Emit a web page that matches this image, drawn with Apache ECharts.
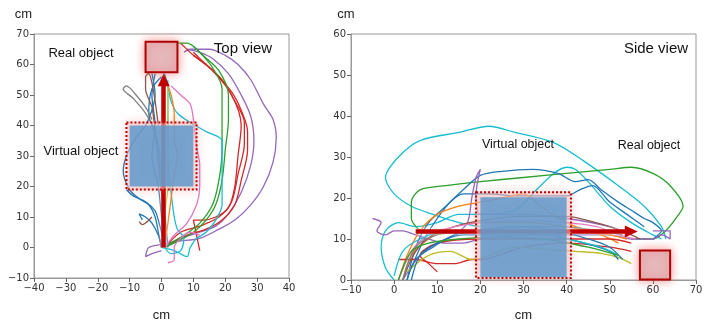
<!DOCTYPE html>
<html>
<head>
<meta charset="utf-8">
<script src="https://cdn.jsdelivr.net/npm/echarts@6/dist/echarts.min.js"></script>
<style>
  html, body { margin: 0; padding: 0; background: #fff; }
  #chart { width: 707px; height: 327px; }
</style>
</head>
<body>
<div id="chart"></div>
<script>
// ---- Top view tracks (x cm, y cm) ----
const topPurpleA = [[0,-1],[-3,-2],[-5,-3],[-4,0],[0,1],[5,2],[12,3],[18,6],[23,9],[28,14],[32,20],[35,28],[36,36],[35,42],[32,47],[28,55],[24,60],[20,63],[15,65],[9,65],[7,64]]
const topPurpleB = [[1,0],[6,3],[12,5],[17,7],[21,11],[25,18],[28,27],[29,35],[28,43],[25,50],[21,57],[16,62],[12,64],[8,65]]
const topRedA = [[2,1],[8,4],[14,6],[19,9],[23,14],[25,22],[27,32],[27,38],[25,45],[22,51],[17,57],[12,62],[10,64]]
const topRedB = [[1,0],[6,5],[12,7],[18,10],[22,15],[24,24],[26,34],[26,41],[23,48],[19,55],[14,60],[10,63]]
const topRedC = [[12,-1],[11,4],[10,9],[13,9],[17,10],[21,13],[23,20],[24,30],[25,40],[22,50],[16,58],[10,63],[6,67]]
const topGreenA = [[1,0],[5,2],[10,5],[14,9],[17,14],[19,22],[20,32],[21,42],[21,50],[18,58],[13,63],[8,67],[4,67]]
const topGreenB = [[2,1],[7,4],[12,8],[16,14],[18,22],[19,32],[19,42],[19,52],[16,59],[12,64],[10,66]]
const topCyanA = [[0,0],[4,-1],[8,-3],[9,0],[11,3],[14,5],[17,9],[19,14],[19,25],[19,35],[14,38],[9,41],[5,44],[3,48],[2,53],[1,57]]
const topCyanB = [[1,0],[3,-2],[6,-1],[7,3],[5,6],[4,10],[3,18],[2,28],[2,38],[2,48],[2,55]]
const topBlueA = [[0,0],[-1,5],[-2,10],[-4,14],[-7,16],[-10,19],[-12,25],[-11,30],[-8,36],[-5,40],[-3,45],[-2,50],[-3,57]]
const topBlueB = [[1,0],[0,5],[-1,9],[-2,12],[-5,15],[-9,17],[-11,19]]
const topBlueC = [[0,0],[-1,4],[-3,8],[-5,10],[-7,11],[-6,9]]
const topBlueD = [[1,0],[0,10],[-1,20],[-3,30],[-2,40],[-3,50],[-2,57]]
const topBlueE = [[2,0],[1,12],[0,24],[-1,34],[-4,44],[-3,52],[0,56]]
const topGray = [[0,0],[1,10],[0,20],[-1,30],[-2,38],[-5,44],[-9,49],[-12,52],[-11,53],[-8,50],[-5,46],[-3,42]]
const topBrown = [[1,0],[1,8],[0,18],[-1,28],[-2,38],[-3,46],[-5,52],[-5,56],[-4,57],[-3,54],[-2,48],[-1,40]]
const topBrownHook = [[-3,10],[-5,8],[-6,7.5],[-7,8.5]]
const topPinkA = [[1,0],[4,4],[8,8],[11,14],[12,20],[12,27],[11,33],[10,42],[9,47],[6,50],[3,53]]
const topPinkB = [[2,-5],[4,-4],[4,0],[6,3],[9,5],[12,4]]
const topOrange = [[1,0],[2,8],[3,16],[4,24],[5,30],[4,36],[4,44],[3,50],[2,53]]
const topOlive = [[1,0],[1,10],[2,20],[2,30],[2,42],[2,52]]

// ---- Side view tracks (x cm, z cm) ----
const sideCyanBig = [[20,13],[15,14],[9,16],[4,18],[0,21],[-2,25],[1,30],[6,34],[15,36],[22,37.5],[28,36],[37,33.5],[44,29],[52,23],[58,18],[62,13],[63,10]]
const sideCyanB = [[0,0],[-2,3],[-3,8],[-2,12],[1,14],[5,13],[10,14],[15,16],[20,16],[28,17],[33,22],[37,26],[40,27.5],[42,27],[45,24],[50,18],[55,14],[60,11],[62,10]]
const sideGreenBig = [[6,12],[4,15],[4,19],[6,22],[12,23],[20,24],[30,25],[40,26],[50,27],[55,27.5],[60,26],[64,23],[67,18],[66,16],[63,12],[60,10],[55,10]]
const sideBlueHigh = [[3,0],[5,8],[8,14],[12,18],[16,22],[20,25.5],[25,26.5],[32,27],[38,26],[42,24],[45,24.5],[48,22],[52,19],[55,17],[58,15],[60,14],[62,12],[60,10]]
const sideBlueMid = [[4,3],[7,10],[10,15],[13,19],[16,21],[22,21],[28,20.5],[34,20.5],[40,20.5],[43,22],[46,23],[50,19],[54,16],[58,13]]
const sidePurpleScribble = [[-5,15],[-3,14],[-4,12],[-2,11],[0,12],[2,12],[5,11],[8,10],[12,9],[16,9],[20,10],[30,11],[40,11],[50,11],[55,10],[60,10],[62,11],[64,10],[64,12],[60,12]]
const sidePurpleSpike = [[2,0],[6,6],[10,9],[14,11],[17,14],[18,20],[19,25],[20,27],[19,21],[20,16],[25,16],[30,16],[40,15],[50,13],[55,11]]
const sideOrangeA = [[1,0],[3,6],[6,12],[10,16],[15,18],[20,19],[25,20],[30,21],[34,18],[40,14],[45,12],[50,11],[54,10]]
const sideOrangeB = [[2,0],[4,6],[8,10],[14,13],[20,14],[30,14],[40,13],[48,11],[52,9]]
const sideRedA = [[1,5],[5,5],[10,4],[14,4],[18,5],[20,5],[30,8],[40,9],[50,8],[55,7]]
const sideRedB = [[10,2],[8,4],[6,6],[10,9],[20,10],[30,10],[40,10],[50,10],[55,9]]
const sideOlive = [[3,2],[8,6],[13,7],[18,5],[22,6],[28,8],[35,7.5],[42,7],[48,6.5],[52,5.5],[55,4]]
const sideBrown = [[2,0],[5,7],[9,11],[14,13],[20,14.5],[30,15.5],[40,15.5],[45,14.5],[50,13],[55,11],[57,10]]
const sidePink = [[1,0],[4,7],[8,11],[14,13],[20,14],[30,14.5],[40,14],[47,13],[52,11],[56,10]]
const sideGray = [[2,0],[5,8],[10,11],[18,12],[28,13],[38,13],[48,12],[53,11]]
const sideBlueLowA = [[3,0],[5,5],[9,8],[14,11],[20,12],[30,13],[38,12],[45,10],[50,8],[53,5]]
const sideBlueLowB = [[4,0],[6,6],[10,9],[16,11],[25,11],[35,11],[44,9],[50,7],[52,5]]
const sideCyanLow = [[0,1],[2,7],[6,10],[12,12],[20,12],[30,12],[40,10],[48,8],[52,6]]
const sideGreenLow = [[1,0],[4,7],[8,9],[15,10],[25,10.5],[35,10],[45,8],[52,6]]

// ---- objects and arrows [x1, y1, x2, y2] ----
const topVirtualBox = [-10, 20, 10, 40]
const topVirtualBorder = [-11, 19, 11, 41]
const topRealBox = [-5, 57.5, 5, 67.5]
const topArrow = [[0.7, 0], [0.7, 55]]
const sideVirtualBox = [20, 0.7, 40, 20.2]
const sideVirtualBorder = [19, 0.5, 41, 21.4]
const sideRealBox = [57, 0.1, 64, 7.2]
const sideArrow = [[5, 11.8], [55, 11.8]]

// matplotlib tab10
const C = {
  blue: '#1f77b4', orange: '#ff7f0e', green: '#2ca02c', red: '#d62728', purple: '#9467bd',
  brown: '#8c564b', pink: '#e377c2', gray: '#7f7f7f', olive: '#bcbd22', cyan: '#17becf'
}

const topTracks = [
  [topPurpleA, C.purple], [topPurpleB, C.purple], [topRedA, C.red], [topRedB, C.red], [topRedC, C.red],
  [topGreenA, C.green], [topGreenB, C.green], [topCyanA, C.cyan], [topCyanB, C.cyan],
  [topBlueA, C.blue], [topBlueB, C.blue], [topBlueC, C.blue], [topBlueD, C.blue], [topBlueE, C.blue],
  [topGray, C.gray], [topBrown, C.brown], [topBrownHook, C.brown], [topPinkA, C.pink], [topPinkB, C.pink],
  [topOrange, C.orange], [topOlive, C.olive]
]
const sideTracks = [
  [sideCyanBig, C.cyan], [sideCyanB, C.cyan], [sideGreenBig, C.green], [sideBlueHigh, C.blue], [sideBlueMid, C.blue],
  [sidePurpleScribble, C.purple], [sidePurpleSpike, C.purple], [sideOrangeA, C.orange], [sideOrangeB, C.orange],
  [sideRedA, C.red], [sideRedB, C.red], [sideOlive, C.olive], [sideBrown, C.brown], [sidePink, C.pink],
  [sideGray, C.gray], [sideBlueLowA, C.blue], [sideBlueLowB, C.blue], [sideCyanLow, C.cyan], [sideGreenLow, C.green]
]

const minus = v => (v < 0 ? '\u2212' + (-v) : String(v))

function axis(gridIndex, min, max, nameOpts) {
  return Object.assign({
    gridIndex,
    type: 'value',
    min, max, interval: 10,
    axisLine: { show: true, onZero: false, lineStyle: { color: '#999', width: 1 } },
    axisTick: { show: true, length: 4, lineStyle: { color: '#666' } },
    axisLabel: { color: '#333', fontSize: 10, fontFamily: 'DejaVu Sans', margin: 5, formatter: minus },
    splitLine: { show: false },
    name: 'cm',
    nameTextStyle: { color: '#222', fontSize: 13, fontFamily: 'Liberation Sans' }
  }, nameOpts)
}

function trackSeries(tracks, idx) {
  return tracks.map(([pts, color]) => ({
    type: 'line',
    xAxisIndex: idx, yAxisIndex: idx,
    data: pts,
    showSymbol: false,
    smooth: 0.3,
    lineStyle: { color, width: 1.3 },
    z: 2
  }))
}

// draws the virtual object (glow + blue fill + dotted border) and real object
function objectSeries(idx, virtualBox, virtualBorder, realBox) {
  return {
    type: 'custom',
    xAxisIndex: idx, yAxisIndex: idx,
    silent: true,
    z: 5,
    data: [virtualBorder.concat(0), virtualBox.concat(1), virtualBorder.concat(2), realBox.concat(3)],
    renderItem(params, api) {
      const p1 = api.coord([api.value(0), api.value(1)])
      const p2 = api.coord([api.value(2), api.value(3)])
      const shape = { x: Math.min(p1[0], p2[0]), y: Math.min(p1[1], p2[1]), width: Math.abs(p2[0] - p1[0]), height: Math.abs(p2[1] - p1[1]) }
      const kind = api.value(4)
      if (kind === 0) {
        return { type: 'rect', shape, style: { fill: 'rgba(248,205,205,0.5)', shadowBlur: 10, shadowColor: 'rgba(235,90,90,0.55)' } }
      }
      if (kind === 1) {
        return { type: 'rect', shape, style: { fill: 'rgba(86,150,204,0.8)' } }
      }
      if (kind === 2) {
        return { type: 'rect', shape, style: { fill: 'none', stroke: '#c00000', lineWidth: 2, lineDash: [2, 2] } }
      }
      return { type: 'rect', shape, style: { fill: '#e6b8bb', stroke: '#b00000', lineWidth: 2, shadowBlur: 10, shadowColor: 'rgba(235,80,80,0.6)' } }
    }
  }
}

function arrowSeries(idx, arrow) {
  return {
    type: 'line',
    xAxisIndex: idx, yAxisIndex: idx,
    data: [],
    z: 8,
    markLine: {
      silent: true,
      symbol: ['none', 'triangle'],
      symbolSize: [12, 13],
      label: { show: false },
      lineStyle: { color: '#c00000', width: 4.5, type: 'solid', shadowBlur: 4, shadowColor: 'rgba(255,255,255,0.8)' },
      data: [[{ coord: arrow[0] }, { coord: arrow[1] }]]
    }
  }
}

const txt = (x, y, text, size, align) => ({
  type: 'text', x, y, z: 20,
  style: { text, fontSize: size, fontFamily: 'Liberation Sans', fill: '#111', textAlign: align || 'center', textVerticalAlign: 'middle' }
})

const chart = echarts.init(document.getElementById('chart'))
chart.setOption({
  animation: false,
  grid: [
    { left: 34, top: 34, width: 255, height: 254, show: true, borderColor: '#999', borderWidth: 1 },
    { left: 351, top: 34, width: 345, height: 256, show: true, borderColor: '#999', borderWidth: 1 }
  ],
  xAxis: [
    axis(0, -40, 40, { nameLocation: 'middle', nameGap: 31 }),
    axis(1, -10, 70, { nameLocation: 'middle', nameGap: 29 })
  ],
  yAxis: [
    axis(0, -10, 70, { nameLocation: 'end', nameGap: 13, nameTextStyle: { color: '#222', fontSize: 13, fontFamily: 'Liberation Sans', align: 'right', padding: [0, 2, 0, 0] } }),
    axis(1, 0, 60, { nameLocation: 'end', nameGap: 13, nameTextStyle: { color: '#222', fontSize: 13, fontFamily: 'Liberation Sans', align: 'center', padding: [0, 10, 0, 0] } })
  ],
  graphic: [
    txt(81, 53, 'Real object', 13),
    txt(243, 49, 'Top view', 15),
    txt(81, 151, 'Virtual object', 13),
    txt(656, 49, 'Side view', 15),
    txt(518, 145, 'Virtual object', 12.5),
    txt(649, 146, 'Real object', 12.5)
  ],
  series: [
    ...trackSeries(topTracks, 0),
    objectSeries(0, topVirtualBox, topVirtualBorder, topRealBox),
    arrowSeries(0, topArrow),
    ...trackSeries(sideTracks, 1),
    objectSeries(1, sideVirtualBox, sideVirtualBorder, sideRealBox),
    arrowSeries(1, sideArrow)
  ]
})
</script>
</body>
</html>
